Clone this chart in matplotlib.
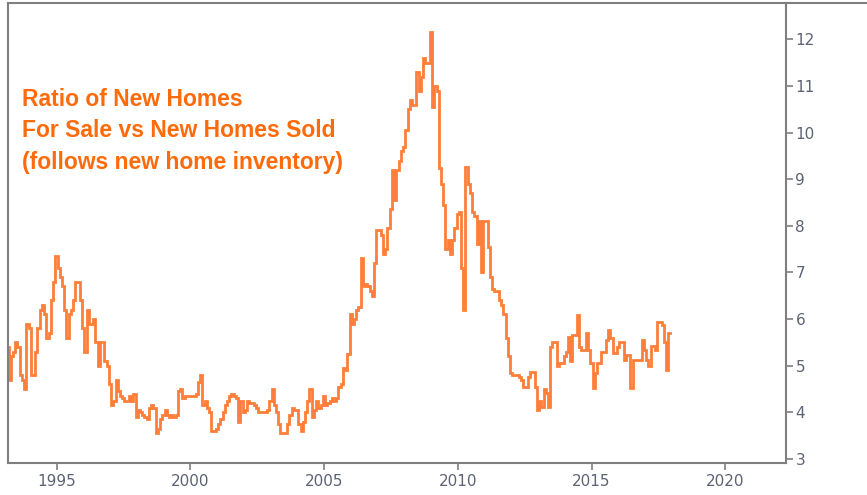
import numpy as np
import pandas as pd
import matplotlib
matplotlib.use("Agg")
import matplotlib.pyplot as plt
from matplotlib.lines import Line2D

# months' supply of new homes, monthly (Mar 1993 .. Dec 2017)
y1993 = [5.4, 4.7, 5.2, 5.3, 5.5, 5.4, 4.8, 4.7, 4.5, 5.9]  # Mar-Dec
y1994 = [5.8, 4.8, 4.8, 5.3, 5.8, 6.2, 6.3, 6.1, 5.6, 5.7, 6.4, 6.8]
y1995 = [7.35, 7.1, 6.9, 6.7, 6.2, 5.6, 6.1, 6.2, 6.4, 6.8, 6.8, 6.4]
y1996 = [5.8, 5.3, 6.2, 5.9, 5.9, 6.0, 5.5, 5.0, 5.5, 5.5, 5.1, 5.0]
y1997 = [4.6, 4.15, 4.25, 4.7, 4.45, 4.35, 4.3, 4.25, 4.25, 4.35, 4.25, 4.4]
y1998 = [3.9, 4.05, 4.0, 3.95, 3.9, 3.85, 4.1, 4.15, 4.1, 3.55, 3.65, 3.85]
y1999 = [3.95, 4.05, 3.95, 3.9, 3.95, 3.9, 3.95, 4.45, 4.5, 4.3, 4.35, 4.35]
y2000 = [4.35, 4.35, 4.35, 4.4, 4.65, 4.8, 4.15, 4.25, 4.1, 4.0, 3.6, 3.6]
y2001 = [3.65, 3.75, 3.85, 4.0, 4.15, 4.25, 4.35, 4.4, 4.35, 4.3, 3.8, 4.25]
y2002 = [4.0, 4.05, 4.25, 4.2, 4.2, 4.15, 4.1, 4.0, 4.0, 4.0, 4.0, 4.05]
y2003 = [4.25, 4.5, 4.15, 4.0, 3.75, 3.55, 3.55, 3.55, 3.75, 3.95, 4.1, 4.05]
y2004 = [4.05, 3.75, 3.6, 3.8, 4.0, 4.25, 4.5, 3.9, 4.05, 4.25, 4.1, 4.15]
y2005 = [4.35, 4.15, 4.2, 4.25, 4.3, 4.25, 4.3, 4.55, 4.6, 4.95, 4.9, 5.25]
y2006 = [6.1, 5.9, 6.0, 6.2, 6.25, 7.3, 6.7, 6.75, 6.7, 6.6, 6.5, 7.2]
y2007 = [7.9, 7.9, 7.8, 7.4, 7.5, 7.95, 8.35, 9.2, 8.55, 9.2, 9.4, 9.6]
y2008 = [9.7, 10.05, 10.5, 10.7, 10.6, 10.6, 11.3, 10.9, 11.2, 11.6, 11.5, 11.5]
y2009 = [12.15, 10.55, 11.0, 10.9, 9.25, 8.9, 8.45, 7.5, 7.7, 7.4, 7.7, 7.95]
y2010 = [8.25, 8.3, 7.1, 6.2, 9.27, 8.9, 8.7, 8.3, 8.2, 7.6, 8.1, 7.0]
y2011 = [8.1, 8.1, 7.55, 6.9, 6.65, 6.6, 6.6, 6.4, 6.3, 6.1, 5.6, 5.2]
y2012 = [4.85, 4.8, 4.8, 4.8, 4.75, 4.7, 4.55, 4.55, 4.75, 4.87, 4.87, 4.55]
y2013 = [4.05, 4.25, 4.12, 4.5, 4.42, 4.12, 5.4, 5.5, 5.5, 5.0, 5.05, 5.05]
y2014 = [5.2, 5.3, 5.62, 5.1, 5.66, 5.66, 6.09, 5.4, 5.34, 5.34, 5.7, 5.34]
y2015 = [5.06, 4.52, 4.84, 5.06, 5.06, 5.3, 5.3, 5.55, 5.77, 5.6, 5.27, 5.27]
y2016 = [5.4, 5.51, 5.51, 5.12, 5.23, 5.23, 4.52, 5.12, 5.12, 5.12, 5.12, 5.55]
y2017 = [5.34, 5.12, 5.0, 5.41, 5.41, 5.34, 5.94, 5.94, 5.87, 5.5, 4.91, 5.7]

y_ticks = [3, 4, 5, 6, 7, 8, 9, 10, 11, 12]
x_tick_years = [1995, 2000, 2005, 2010, 2015, 2020]
title_lines = ["Ratio of New Homes", "For Sale vs New Homes Sold", "(follows new home inventory)"]

values = (y1993 + y1994 + y1995 + y1996 + y1997 + y1998 + y1999 + y2000 + y2001
          + y2002 + y2003 + y2004 + y2005 + y2006 + y2007 + y2008 + y2009 + y2010
          + y2011 + y2012 + y2013 + y2014 + y2015 + y2016 + y2017)
dates = pd.date_range("1993-03-01", periods=len(values), freq="MS")

line_col = "#FF7F3A"
text_col = "#FF6A0A"
axis_col = "#7F7F7F"
label_col = "#5C6373"

fig = plt.figure(figsize=(8.67, 4.95), dpi=100)
ax = fig.add_axes([0.0096, 0.0646, 0.8966, 0.9294])

ax.plot(dates, values, color=line_col, lw=2.0, drawstyle="steps-mid", solid_joinstyle="miter")

ax.set_xlim(pd.Timestamp("1993-03-14"), pd.Timestamp("2022-04-05"))
ax.set_ylim(2.91, 12.78)

ax.set_xticks([pd.Timestamp(f"{y}-01-01") for y in x_tick_years])
ax.set_xticklabels([str(y) for y in x_tick_years])
ax.set_yticks(y_ticks)
ax.set_yticklabels([str(v) for v in y_ticks])
for lab in ax.get_yticklabels():
    if lab.get_text() == "10":
        lab.set_fontweight("bold")

ax.yaxis.tick_right()
ax.tick_params(axis="both", colors=axis_col, labelcolor=label_col, labelsize=11,
               direction="out", length=5, width=1.2)
ax.tick_params(axis="y", pad=2)
ax.tick_params(axis="x", pad=3)

for sp in ax.spines.values():
    sp.set_color(axis_col)
    sp.set_linewidth(1.5)

# top border runs across the whole figure
fig.add_artist(Line2D([0.906, 1.0], [0.9940, 0.9940], color=axis_col, lw=1.5,
                      transform=fig.transFigure))

ax.text(0.018, 0.722, "\n".join(title_lines), transform=ax.transAxes,
        color=text_col, fontsize=16.5, fontweight="bold", va="center", ha="left",
        linespacing=1.46, family="Liberation Sans")

fig.savefig("out.png", dpi=100)
